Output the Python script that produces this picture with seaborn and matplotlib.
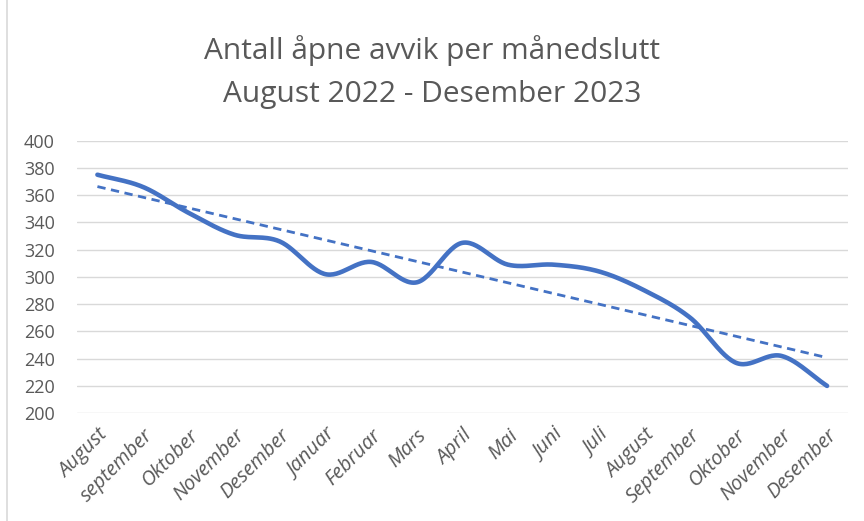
import numpy as np
import pandas as pd
import seaborn as sns
import matplotlib.pyplot as plt

# månedene fra august 2022 til desember 2023
maaneder = ['August', 'september', 'Oktober', 'November', 'Desember', 'Januar',
            'Februar', 'Mars', 'April', 'Mai', 'Juni', 'Juli', 'August',
            'September', 'Oktober', 'November', 'Desember']
avvik = [375, 366, 347, 331, 326, 302, 311, 296, 325, 309, 309, 304, 290,
         270, 237, 242, 220]
y_ticks = [200, 220, 240, 260, 280, 300, 320, 340, 360, 380, 400]

df = pd.DataFrame({'pos': np.arange(len(avvik)), 'avvik': avvik})

# glatt kurve (Catmull-Rom), som "utjevnet linje" i Excel
def glatt(x, y, n=30):
    x = np.asarray(x, float)
    y = np.asarray(y, float)
    px = np.r_[2 * x[0] - x[1], x, 2 * x[-1] - x[-2]]
    py = np.r_[2 * y[0] - y[1], y, 2 * y[-1] - y[-2]]
    xs, ys = [], []
    t = np.linspace(0, 1, n)
    for i in range(1, len(px) - 2):
        for p, out in ((px, xs), (py, ys)):
            p0, p1, p2, p3 = p[i - 1], p[i], p[i + 1], p[i + 2]
            out.extend(0.5 * ((2 * p1) + (-p0 + p2) * t
                              + (2 * p0 - 5 * p1 + 4 * p2 - p3) * t ** 2
                              + (-p0 + 3 * p1 - 3 * p2 + p3) * t ** 3))
    return np.array(xs), np.array(ys)

sns.set_theme(style='white')
plt.rcParams['font.family'] = ['Open Sans', 'DejaVu Sans']

farge = '#4472C4'
tekst = '#595959'

fig, ax = plt.subplots(figsize=(8.64, 5.21), dpi=100)
fig.subplots_adjust(left=0.089, right=0.981, top=0.73, bottom=0.207)

gx, gy = glatt(df['pos'], df['avvik'])
sns.lineplot(x=gx, y=gy, ax=ax, color=farge, linewidth=3.3, sort=False,
             solid_capstyle='round')

# lineær trendlinje
k, m = np.polyfit(df['pos'], df['avvik'], 1)
ax.plot(df['pos'], k * df['pos'] + m, color=farge, linewidth=2, linestyle=(0, (3, 2)))

ax.set_xlim(-0.45, len(avvik) - 0.55)
ax.set_ylim(200, 400)
ax.set_yticks(y_ticks)
ax.set_xticks(df['pos'])
ax.set_xticklabels(maaneder, rotation=45, ha='right', rotation_mode='anchor',
                   style='italic', fontsize=14.5, color=tekst)
ax.tick_params(axis='y', labelsize=13, labelcolor=tekst, length=0, pad=16)
ax.tick_params(axis='x', length=0, pad=9)
ax.yaxis.grid(True, color='#D9D9D9', linewidth=1)
ax.set_axisbelow(True)
for s in ax.spines.values():
    s.set_visible(False)
ax.set_xlabel('')
ax.set_ylabel('')

fig.text(0.5, 0.887, 'Antall åpne avvik per månedslutt', ha='center',
         va='baseline', fontsize=21.5, color=tekst)
fig.text(0.5, 0.804, 'August 2022 - Desember 2023', ha='center',
         va='baseline', fontsize=21.5, color=tekst)

# tynn ramme til venstre som i skjermbildet
fig.add_artist(plt.Line2D([0.008, 0.008], [0, 1], color='#D9D9D9', linewidth=1.2))

plt.savefig('out.png', dpi=100)
plt.close()
